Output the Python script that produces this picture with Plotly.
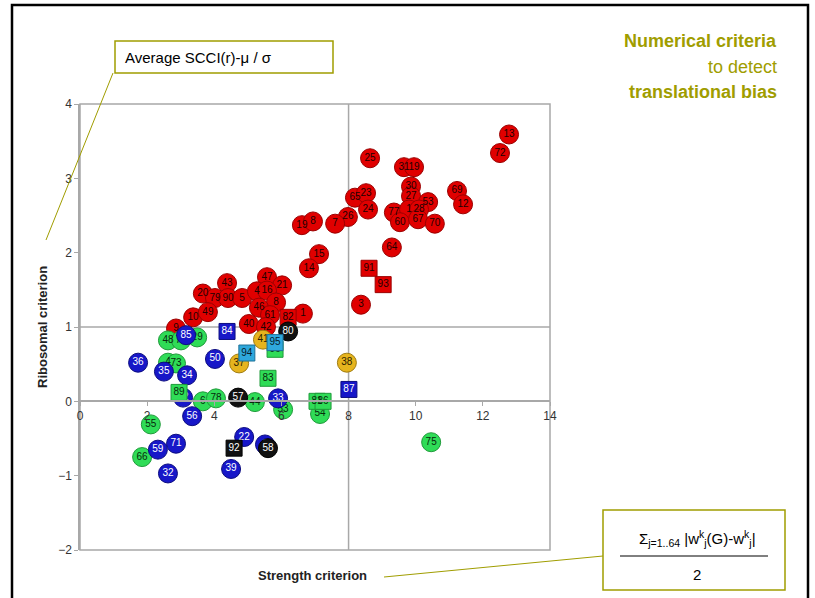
import plotly.graph_objects as go

# ---- gene groups: strength criterion (x), ribosomal criterion (y), gene labels ----
red_circ_x = [12.78, 12.51, 8.64, 9.65, 9.95, 9.86, 9.86, 8.19, 8.52, 11.23, 11.41, 10.37,
              8.58, 9.35, 9.80, 10.10, 9.53, 10.07, 10.57, 7.98, 7.60, 6.61, 6.94, 7.12,
              6.82, 9.29, 8.37, 4.38, 5.57, 6.02, 3.66, 4.02, 4.41, 4.83, 5.27, 5.57,
              5.84, 5.33, 5.66, 6.64, 3.37, 3.81, 5.03, 5.54, 2.86]
red_circ_y = [3.59, 3.34, 3.27, 3.15, 3.15, 2.89, 2.76, 2.74, 2.80, 2.83, 2.65, 2.68,
              2.58, 2.54, 2.58, 2.58, 2.41, 2.45, 2.39, 2.48, 2.39, 2.37, 2.42, 1.98,
              1.79, 2.07, 1.30, 1.59, 1.67, 1.56, 1.45, 1.39, 1.39, 1.39, 1.48, 1.49,
              1.33, 1.26, 1.16, 1.18, 1.13, 1.20, 1.04, 1.00, 0.98]
red_circ_lbl = ["13", "72", "25", "31", "19", "30", "27", "65", "23", "69", "12", "53",
                "24", "77", "1", "28", "60", "67", "70", "26", "7", "19", "8", "15",
                "14", "64", "3", "43", "47", "21", "20", "79", "90", "5", "4", "16",
                "8", "46", "61", "1", "10", "49", "40", "42", "9"]

red_sq_x = [8.61, 9.03, 6.20]
red_sq_y = [1.79, 1.57, 1.13]
red_sq_lbl = ["91", "93", "82"]

green_circ_x = [2.62, 3.01, 3.49, 2.62, 2.86, 3.66, 4.05, 5.21, 6.05, 7.15, 2.11, 1.85, 10.46]
green_circ_y = [0.82, 0.82, 0.86, 0.52, 0.51, 0.00, 0.04, -0.01, -0.11, -0.17, -0.31, -0.75, -0.55]
green_circ_lbl = ["48", "74", "29", "4", "73", "6", "78", "44", "53", "54", "55", "66", "75"]

green_sq_x = [2.95, 5.60, 5.81, 7.06, 7.24]
green_sq_y = [0.12, 0.31, 0.70, 0.00, 0.00]
green_sq_lbl = ["89", "83", "96", "81", "86"]

blue_circ_x = [3.07, 3.16, 4.02, 1.73, 2.50, 3.19, 5.90, 3.34, 2.86, 2.32, 2.62, 4.89, 5.51, 4.50]
blue_circ_y = [0.05, 0.89, 0.57, 0.52, 0.40, 0.35, 0.04, -0.20, -0.57, -0.65, -0.97, -0.48, -0.58, -0.91]
blue_circ_lbl = ["52", "85", "50", "36", "35", "34", "33", "56", "71", "59", "32", "22", "2", "39"]

blue_sq_x = [4.38, 8.01]
blue_sq_y = [0.94, 0.16]
blue_sq_lbl = ["84", "87"]

cyan_sq_x = [5.81, 4.97]
cyan_sq_y = [0.79, 0.65]
cyan_sq_lbl = ["95", "94"]

yellow_circ_x = [5.45, 4.74, 7.95]
yellow_circ_y = [0.83, 0.51, 0.52]
yellow_circ_lbl = ["41", "37", "38"]

black_circ_x = [5.60, 6.20, 4.71]
black_circ_y = [-0.63, 0.94, 0.05]
black_circ_lbl = ["58", "80", "57"]

black_sq_x = [4.59]
black_sq_y = [-0.63]
black_sq_lbl = ["92"]

# ---- thresholds and axis settings ----
X_RANGE = [0, 14]
Y_RANGE = [-2, 4]
STRENGTH_CUT = 8
RIBOSOMAL_CUT = 1
X_TICKS = [0, 2, 4, 6, 8, 10, 12, 14]
Y_TICKS = [-2, -1, 0, 1, 2, 3, 4]

OLIVE = "#a09d00"
FONT = "Liberation Sans, Arial, sans-serif"
NARROW = "Liberation Sans Narrow, Liberation Sans, Arial, sans-serif"

RED, RED_EDGE = "#e00000", "#9a0000"
GREEN, GREEN_EDGE = "#2fdc57", "#1f9a3a"
BLUE, BLUE_EDGE = "#1717c8", "#0c0c80"
CYAN, CYAN_EDGE = "#2fa8dc", "#1d7098"
YELLOW, YELLOW_EDGE = "#e6b41e", "#a07c10"
BLACK, BLACK_EDGE = "#111111", "#000000"

fig = go.Figure()


def add_group(xs, ys, labels, fill, edge, symbol, size, text_color):
    fig.add_trace(go.Scatter(
        x=xs, y=ys, text=labels, mode="markers+text",
        textposition="middle center",
        textfont=dict(family=FONT, size=10, color=text_color),
        marker=dict(symbol=symbol, size=size, color=fill,
                    line=dict(color=edge, width=1)),
        hoverinfo="x+y+text", showlegend=False, cliponaxis=False,
    ))


add_group(red_circ_x, red_circ_y, red_circ_lbl, RED, RED_EDGE, "circle", 19, "#220000")
add_group(red_sq_x, red_sq_y, red_sq_lbl, RED, RED_EDGE, "square", 16, "#220000")
add_group(green_circ_x, green_circ_y, green_circ_lbl, GREEN, GREEN_EDGE, "circle", 19, "#062a0c")
add_group(blue_circ_x, blue_circ_y, blue_circ_lbl, BLUE, BLUE_EDGE, "circle", 19, "#ffffff")
add_group(green_sq_x, green_sq_y, green_sq_lbl, GREEN, GREEN_EDGE, "square", 16, "#062a0c")
add_group(black_circ_x, black_circ_y, black_circ_lbl, BLACK, BLACK_EDGE, "circle", 19, "#ffffff")
add_group(black_sq_x, black_sq_y, black_sq_lbl, BLACK, BLACK_EDGE, "square", 16, "#ffffff")
add_group(yellow_circ_x, yellow_circ_y, yellow_circ_lbl, YELLOW, YELLOW_EDGE, "circle", 19, "#2a2000")
add_group(cyan_sq_x, cyan_sq_y, cyan_sq_lbl, CYAN, CYAN_EDGE, "square", 16, "#06202c")
add_group(blue_sq_x, blue_sq_y, blue_sq_lbl, BLUE, BLUE_EDGE, "square", 16, "#ffffff")

W, H = 815, 598
L, R, T, B = 80, 550, 104, 550          # plot area in pixels


def px(x):
    return (x - L) / (R - L)


def py(y):
    return (B - y) / (B - T)


shapes = [
    # outer slide frame
    dict(type="rect", xref="paper", yref="paper", x0=px(12), x1=px(808), y0=py(610), y1=py(5),
         line=dict(color="#000000", width=2.5), layer="below"),
    # plot frame
    dict(type="rect", xref="paper", yref="paper", x0=0, x1=1, y0=0, y1=1,
         line=dict(color="#a8a8a8", width=1.5), layer="below"),
    # threshold lines
    dict(type="line", xref="x", yref="paper", x0=STRENGTH_CUT, x1=STRENGTH_CUT, y0=0, y1=1,
         line=dict(color="#a8a8a8", width=1.5), layer="below"),
    dict(type="line", xref="paper", yref="y", x0=0, x1=1, y0=RIBOSOMAL_CUT, y1=RIBOSOMAL_CUT,
         line=dict(color="#a8a8a8", width=1.5), layer="below"),
    # leader lines to the callout boxes
    dict(type="line", xref="paper", yref="paper", x0=px(113), y0=py(73), x1=px(46), y1=py(240),
         line=dict(color=OLIVE, width=1)),
    dict(type="line", xref="paper", yref="paper", x0=px(384), y0=py(577), x1=px(603), y1=py(556),
         line=dict(color=OLIVE, width=1)),
    # callout box for the ribosomal criterion
    dict(type="rect", xref="paper", yref="paper", x0=px(115), x1=px(333), y0=py(73), y1=py(41),
         line=dict(color=OLIVE, width=1.5), fillcolor="white"),
    # formula box
    dict(type="rect", xref="paper", yref="paper", x0=px(603), x1=px(785), y0=py(590), y1=py(510),
         line=dict(color=OLIVE, width=1.5), fillcolor="white"),
    dict(type="line", xref="paper", yref="paper", x0=px(620), x1=px(768), y0=py(556), y1=py(556),
         line=dict(color="#000000", width=1)),
]

annotations = [
    dict(text="Average SCCI(r)-μ / σ", xref="paper", yref="paper", x=px(123), y=py(57),
         xanchor="left", yanchor="middle", showarrow=False,
         font=dict(family=FONT, size=15, color="#000000")),
    dict(text="<b>Numerical criteria</b>", xref="paper", yref="paper", x=px(779), y=py(41),
         xanchor="right", yanchor="middle", showarrow=False,
         font=dict(family=NARROW, size=18, color=OLIVE)),
    dict(text="to detect", xref="paper", yref="paper", x=px(779), y=py(67),
         xanchor="right", yanchor="middle", showarrow=False,
         font=dict(family=NARROW, size=18, color=OLIVE)),
    dict(text="<b>translational bias</b>", xref="paper", yref="paper", x=px(779), y=py(92),
         xanchor="right", yanchor="middle", showarrow=False,
         font=dict(family=NARROW, size=18, color=OLIVE)),
    dict(text="<b>Ribosomal criterion</b>", xref="paper", yref="paper", x=px(42), y=py(327),
         xanchor="center", yanchor="middle", showarrow=False, textangle=-90,
         font=dict(family=FONT, size=13, color="#222222")),
    dict(text="<b>Strength criterion</b>", xref="paper", yref="paper", x=px(312), y=py(575),
         xanchor="center", yanchor="middle", showarrow=False,
         font=dict(family=FONT, size=13, color="#222222")),
    dict(text="Σ<sub>j=1..64</sub> |w<sup>k</sup><sub>j</sub>(G)-w<sup>k</sup><sub>j</sub>|",
         xref="paper", yref="paper", x=px(697), y=py(538),
         xanchor="center", yanchor="middle", showarrow=False,
         font=dict(family=FONT, size=15, color="#000000")),
    dict(text="2", xref="paper", yref="paper", x=px(697), y=py(574),
         xanchor="center", yanchor="middle", showarrow=False,
         font=dict(family=FONT, size=15, color="#000000")),
]

fig.update_layout(
    width=W, height=H,
    margin=dict(l=L, r=W - R, t=T, b=H - B, pad=0),
    paper_bgcolor="white", plot_bgcolor="white",
    shapes=shapes, annotations=annotations,
    xaxis=dict(range=X_RANGE, tickvals=X_TICKS, showgrid=False, zeroline=False,
               anchor="free", position=(0 - Y_RANGE[0]) / (Y_RANGE[1] - Y_RANGE[0]),
               showline=True, linecolor="#a8a8a8", linewidth=1.5,
               ticks="outside", ticklen=4, tickcolor="#a8a8a8",
               tickfont=dict(family=FONT, size=12, color="#333333")),
    yaxis=dict(range=Y_RANGE, tickvals=Y_TICKS, showgrid=False, zeroline=False,
               showline=True, linecolor="#a8a8a8", linewidth=1.5,
               ticks="outside", ticklen=4, tickcolor="#a8a8a8",
               tickfont=dict(family=FONT, size=12, color="#333333")),
    font=dict(family=FONT),
)

fig.write_html("out.html")
